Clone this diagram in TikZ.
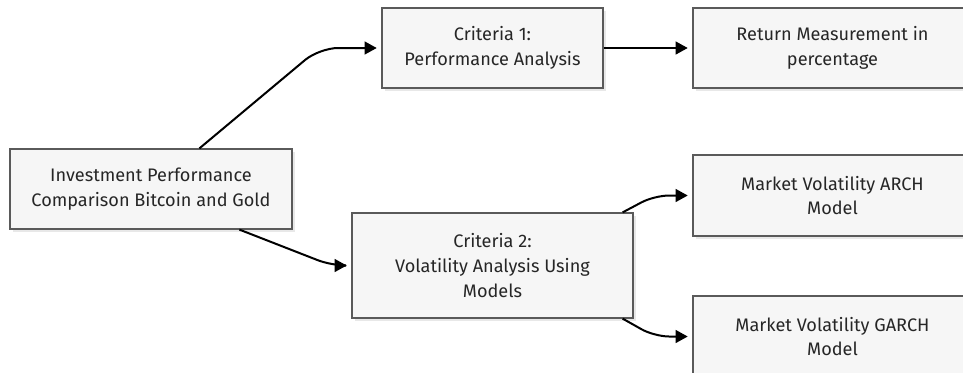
\documentclass[tikz,border=0pt]{standalone}
\usepackage{fontspec}
\setmainfont{Fira Sans}
\usetikzlibrary{arrows.meta,calc,shadows}
\definecolor{boxfill}{HTML}{F6F6F6}
\definecolor{boxline}{HTML}{5A5A5A}
\begin{document}
\begin{tikzpicture}[x=0.75pt,y=-0.75pt,
  box/.style={draw=boxline, line width=0.9pt, fill=boxfill, rectangle, align=center,
    inner sep=0pt, font=\fontsize{13.6}{18.5}\selectfont, text=black!85,
    general shadow={fill=black!9, shadow xshift=2.5pt, shadow yshift=-2.5pt}},
  conn/.style={draw=black, line width=1.5pt, -{Triangle[length=9pt,width=9.5pt]}, shorten >=3.5pt, rounded corners=11pt}]
\clip (0,0) rectangle (963,372);
\useasboundingbox (0,0) rectangle (963,372);
\node[box, minimum width=282*0.75pt, minimum height=80*0.75pt] (A) at (151,189) {Investment Performance\\Comparison Bitcoin and Gold};
\node[box, minimum width=221*0.75pt, minimum height=80*0.75pt] (C1) at (492.5,48) {Criteria 1:\\Performance Analysis};
\node[box, minimum width=279*0.75pt, minimum height=80*0.75pt] (R) at (832.5,48) {Return Measurement in\\percentage};
\node[box, minimum width=281*0.75pt, minimum height=105*0.75pt] (C2) at (492.5,265.5) {Criteria 2:\\Volatility Analysis Using\\Models};
\node[box, minimum width=279*0.75pt, minimum height=81*0.75pt] (M1) at (832.5,195.5) {Market Volatility ARCH\\Model};
\node[box, minimum width=279*0.75pt, minimum height=81*0.75pt] (M2) at (832.5,336.5) {Market Volatility GARCH\\Model};
\draw[conn, rounded corners=14pt] ($(A.north west)+(190,0)$) -- ($(C1.west)+(-62,0)$) -- (C1.west);
\draw[conn] ($(A.south west)+(230,0)$) -- ($(C2.west)+(-20,0)$) -- (C2.west);
\draw[conn] (C1.east) -- (R.west);
\draw[conn] ($(C2.north east)+(-11,0)$) -- ($(M1.west)+(-38,0)$) -- (M1.west);
\draw[conn] ($(C2.south east)+(-11,0)$) -- ($(M2.west)+(-38,0)$) -- (M2.west);
\end{tikzpicture}
\end{document}
